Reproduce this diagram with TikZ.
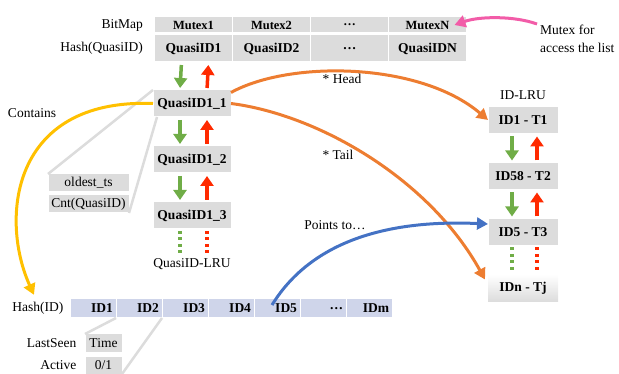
\documentclass[tikz,border=0pt]{standalone}
\usepackage{fontspec}
\setmainfont{Liberation Serif}
\usetikzlibrary{arrows.meta,positioning}

\definecolor{boxgray}{HTML}{DCDCDC}
\definecolor{idblue}{HTML}{CFD5EA}
\definecolor{lrugreen}{HTML}{70AD47}
\definecolor{lrured}{HTML}{FF2A00}
\definecolor{ptrorange}{HTML}{ED7D31}
\definecolor{ptryellow}{HTML}{FFC000}
\definecolor{ptrblue}{HTML}{4472C4}
\definecolor{ptrpink}{HTML}{F25CA8}

\begin{document}
\begin{tikzpicture}[x=1pt,y=-1pt,
    font=\fontsize{13.5}{18}\selectfont,
    cell/.style={fill=boxgray,draw=white,line width=1pt,inner sep=0pt,outer sep=0pt,
      font=\fontsize{13.5}{15}\selectfont\bfseries},
    attr/.style={fill=boxgray,draw=white,line width=1pt,inner sep=0pt,outer sep=0pt,minimum height=18pt},
    idcell/.style={fill=idblue,draw=white,line width=1pt,inner ysep=0pt,inner xsep=3pt,outer sep=0pt,
      minimum height=19pt,text width=40pt,align=right,font=\fontsize{13.5}{15}\selectfont\bfseries},
    nxt/.style={draw=lrugreen,line width=3.5pt,-{Triangle[width=13pt,length=10pt]},shorten <=3pt,shorten >=2pt},
    prv/.style={draw=lrured,line width=3.5pt,-{Triangle[width=13pt,length=10pt]},shorten <=2pt,shorten >=3pt},
    more/.style={line width=4pt,dash pattern=on 3pt off 3.5pt,shorten <=2pt},
    link/.style={draw=boxgray,line width=2.5pt},
    ptr/.style={line width=3pt,-{Triangle[width=12pt,length=11pt]}}]
  \useasboundingbox (0,0) rectangle (619,374);

  % bitmap and hash of quasi ids
  \begin{scope}[every node/.style={cell,minimum width=78pt}]
    \node[minimum height=16pt,font=\fontsize{12.5}{14}\selectfont\bfseries] (m1) at (193.5,25) {Mutex1};
    \node[minimum height=16pt,font=\fontsize{12.5}{14}\selectfont\bfseries] (m2) [right=0pt of m1] {Mutex2};
    \node[minimum height=16pt,font=\fontsize{12.5}{14}\selectfont\bfseries] (m3) [right=0pt of m2] {…};
    \node[minimum height=16pt,font=\fontsize{12.5}{14}\selectfont\bfseries] (mN) [right=0pt of m3] {MutexN};
    \node[minimum height=27pt] (h1) [below=2pt of m1] {QuasiID1};
    \node[minimum height=27pt] (h2) [right=0pt of h1] {QuasiID2};
    \node[minimum height=27pt] (h3) [right=0pt of h2] {…};
    \node[minimum height=27pt] (hN) [right=0pt of h3] {QuasiIDN};
  \end{scope}
  \node (bm) [left=8pt of m1] {BitMap};
  \node (hq) [left=8pt of h1] {Hash(QuasiID)};

  % quasi id lru
  \begin{scope}[every node/.style={cell,minimum width=78pt,minimum height=27pt}]
    \node (q1) at (192,103.5) {QuasiID1\_1};
    \node (q2) [below=29pt of q1] {QuasiID1\_2};
    \node (q3) [below=29pt of q2] {QuasiID1\_3};
  \end{scope}
  \node (ql) at (192,264) {QuasiID-LRU};
  \draw[nxt] ([xshift=-12pt]h1.south) -- ([xshift=-12pt]q1.north);
  \draw[prv] ([xshift=15pt]q1.north) -- ([xshift=15pt]h1.south);
  \draw[nxt] ([xshift=-12pt]q1.south) -- ([xshift=-12pt]q2.north);
  \draw[prv] ([xshift=15pt]q2.north) -- ([xshift=15pt]q1.south);
  \draw[nxt] ([xshift=-12pt]q2.south) -- ([xshift=-12pt]q3.north);
  \draw[prv] ([xshift=15pt]q3.north) -- ([xshift=15pt]q2.south);
  \draw[more,lrugreen] ([xshift=-12pt]q3.south) -- ([xshift=-12pt]ql.north);
  \draw[more,lrured] ([xshift=15pt]q3.south) -- ([xshift=15pt]ql.north);

  \node[attr,minimum width=81pt] (ots) at (88.5,183) {oldest\_ts};
  \node[attr,minimum width=81pt] (cnt) [below=3pt of ots] {Cnt(QuasiID)};
  \draw[link] (q1.north west) -- (ots.north west);
  \draw[link] ([xshift=4pt]q1.south west) -- (cnt.south east);

  % id lru
  \node (il) at (523,95) {ID-LRU};
  \begin{scope}[every node/.style={cell,minimum width=70pt,minimum height=27pt}]
    \node (t1) at (523,120) {ID1 - T1};
    \node (t2) [below=29pt of t1] {ID58 - T2};
    \node (t3) [below=29pt of t2] {ID5 - T3};
    \node[fill=none,draw=none,top color=white,bottom color=boxgray] (tn) [below=29pt of t3] {IDn - Tj};
  \end{scope}
  \draw[nxt] ([xshift=-11pt]t1.south) -- ([xshift=-11pt]t2.north);
  \draw[prv] ([xshift=14pt]t2.north) -- ([xshift=14pt]t1.south);
  \draw[nxt] ([xshift=-11pt]t2.south) -- ([xshift=-11pt]t3.north);
  \draw[prv] ([xshift=14pt]t3.north) -- ([xshift=14pt]t2.south);
  \draw[more,lrugreen,shorten >=3pt] ([xshift=-11pt]t3.south) -- ([xshift=-11pt]tn.north);
  \draw[more,lrured,shorten >=3pt] ([xshift=14pt]t3.south) -- ([xshift=14pt]tn.north);

  % hash of ids
  \node[idcell] (i1) at (93,308.5) {ID1};
  \node[idcell] (i2) [right=0pt of i1] {ID2};
  \node[idcell] (i3) [right=0pt of i2] {ID3};
  \node[idcell] (i4) [right=0pt of i3] {ID4};
  \node[idcell] (i5) [right=0pt of i4] {ID5};
  \node[idcell] (i6) [right=0pt of i5] {…};
  \node[idcell] (im) [right=0pt of i6] {IDm};
  \node (hid) [left=3pt of i1] {Hash(ID)};

  \node[attr,minimum width=37pt] (ls) at (103.5,343) {Time};
  \node[attr,minimum width=37pt] (act) [below=4pt of ls] {0/1};
  \node (lsl) [left=5pt of ls] {LastSeen};
  \node (acl) [left=5pt of act] {Active};
  \draw[link] (ls.north west) -- (i1.south east);
  \draw[link] (act.south east) -- (i2.south east);

  % pointers
  \draw[ptr,ptryellow] (q1.west) .. controls (10,98) and (0,220) .. ([xshift=-4pt,yshift=4pt]hid.north);
  \node (cl) at (32,113) {Contains};
  \draw[ptr,ptrorange] ([yshift=11pt]q1.east) .. controls (290,60) and (420,62) .. (t1.west);
  \node (hl) at (342,79) {* Head};
  \draw[ptr,ptrorange] (q1.east) .. controls (320,115) and (430,180) .. ([xshift=-3pt,yshift=-5pt]tn.north west);
  \node (tl) at (338,155) {* Tail};
  \draw[ptr,ptrblue] ([xshift=-5pt,yshift=-6pt]i5.north) .. controls (315,235) and (400,220) .. ([yshift=8pt]t3.west);
  \node (pl) at (335,225) {Points to…};
  \node[align=left,anchor=north west,inner sep=0pt] (note) at (540,25) {Mutex for\\access the list};
  \draw[ptr,ptrpink] ([xshift=-3pt,yshift=1pt]note.north west) .. controls (515,16) and (480,16) .. ([xshift=-12pt]mN.east);
\end{tikzpicture}
\end{document}
